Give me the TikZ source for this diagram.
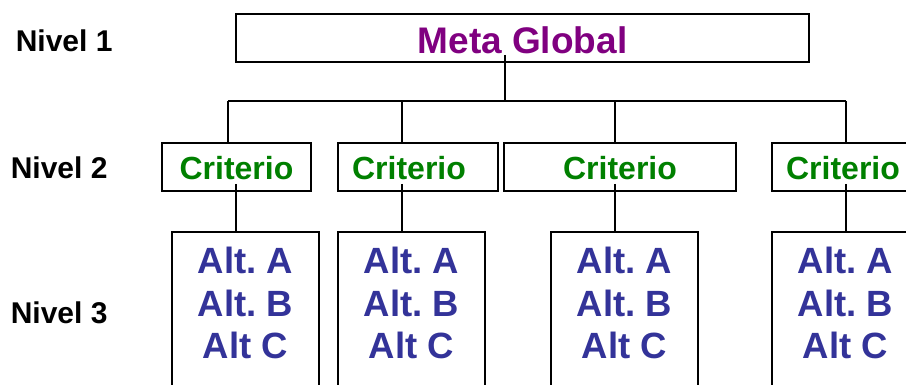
\documentclass[tikz,border=0pt]{standalone}
\usepackage{fontspec}
\setmainfont{Liberation Sans}
\frenchspacing

\definecolor{metacolor}{HTML}{800080}
\definecolor{critcolor}{HTML}{008000}
\definecolor{altcolor}{HTML}{333399}

\begin{document}
\begin{tikzpicture}[x=1pt, y=-1pt, line width=1.6pt,
    box/.style={draw=black, fill=white, rectangle, inner sep=0pt},
    metabox/.style={box, minimum width=573pt, text height=40pt, text depth=8pt,
      text=metacolor, font=\bfseries\fontsize{37}{44}\selectfont},
    critbox/.style={box, text height=37pt, text depth=11pt,
      text=critcolor, font=\bfseries\fontsize{32}{38}\selectfont},
    altbox/.style={box, anchor=north, minimum width=147pt, text height=127pt, text depth=75pt,
      align=center, text=altcolor, font=\bfseries\fontsize{36.5}{42.5}\selectfont},
    level/.style={anchor=base west, inner sep=0pt, font=\bfseries\fontsize{30}{36}\selectfont}]
  \useasboundingbox (0,0) rectangle (906,385);
  \clip (0,0) rectangle (906,385);

  % levels
  \node[level] (nivel1) at (15,52) {Nivel 1};
  \node[level] (nivel2) at (10,179) {Nivel 2};
  \node[level] (nivel3) at (10,323) {Nivel 3};

  % goal
  \node[metabox] (meta) at (522.5,38) {Meta Global};

  % criteria
  \node[critbox, minimum width=149pt] (crit1) at (236.5,167) {Criterio};
  \node[critbox, minimum width=160pt] (crit2) at (418,167) {\hspace*{-18pt}Criterio};
  \node[critbox, minimum width=232pt] (crit3) at (620,167) {Criterio};
  \node[critbox, minimum width=142pt] (crit4) at (843,167) {Criterio};

  % alternatives
  \node[altbox] (alt1) at (245.5,231) {Alt. A\\Alt. B\\Alt C};
  \node[altbox] (alt2) at (411.5,231) {Alt. A\\Alt. B\\Alt C};
  \node[altbox] (alt3) at (624.5,231) {Alt. A\\Alt. B\\Alt C};
  \node[altbox] (alt4) at (845.5,231) {Alt. A\\Alt. B\\Alt C};

  % connectors
  \coordinate (busL) at (228,101);
  \coordinate (busR) at (846,101);
  \draw (busL) -- (busR);
  \draw (meta.south -| 505,0) ++(0,-8) -- (busL -| 505,0);
  \foreach \i/\x in {1/228,2/402,3/615,4/846}
    \draw (busL -| \x,0) -- (crit\i.north -| \x,0);
  \foreach \i/\x in {1/236,2/402,3/615,4/846}
    \draw (crit\i.south -| \x,0) ++(0,-8) -- (alt\i.north -| \x,0);
\end{tikzpicture}
\end{document}
